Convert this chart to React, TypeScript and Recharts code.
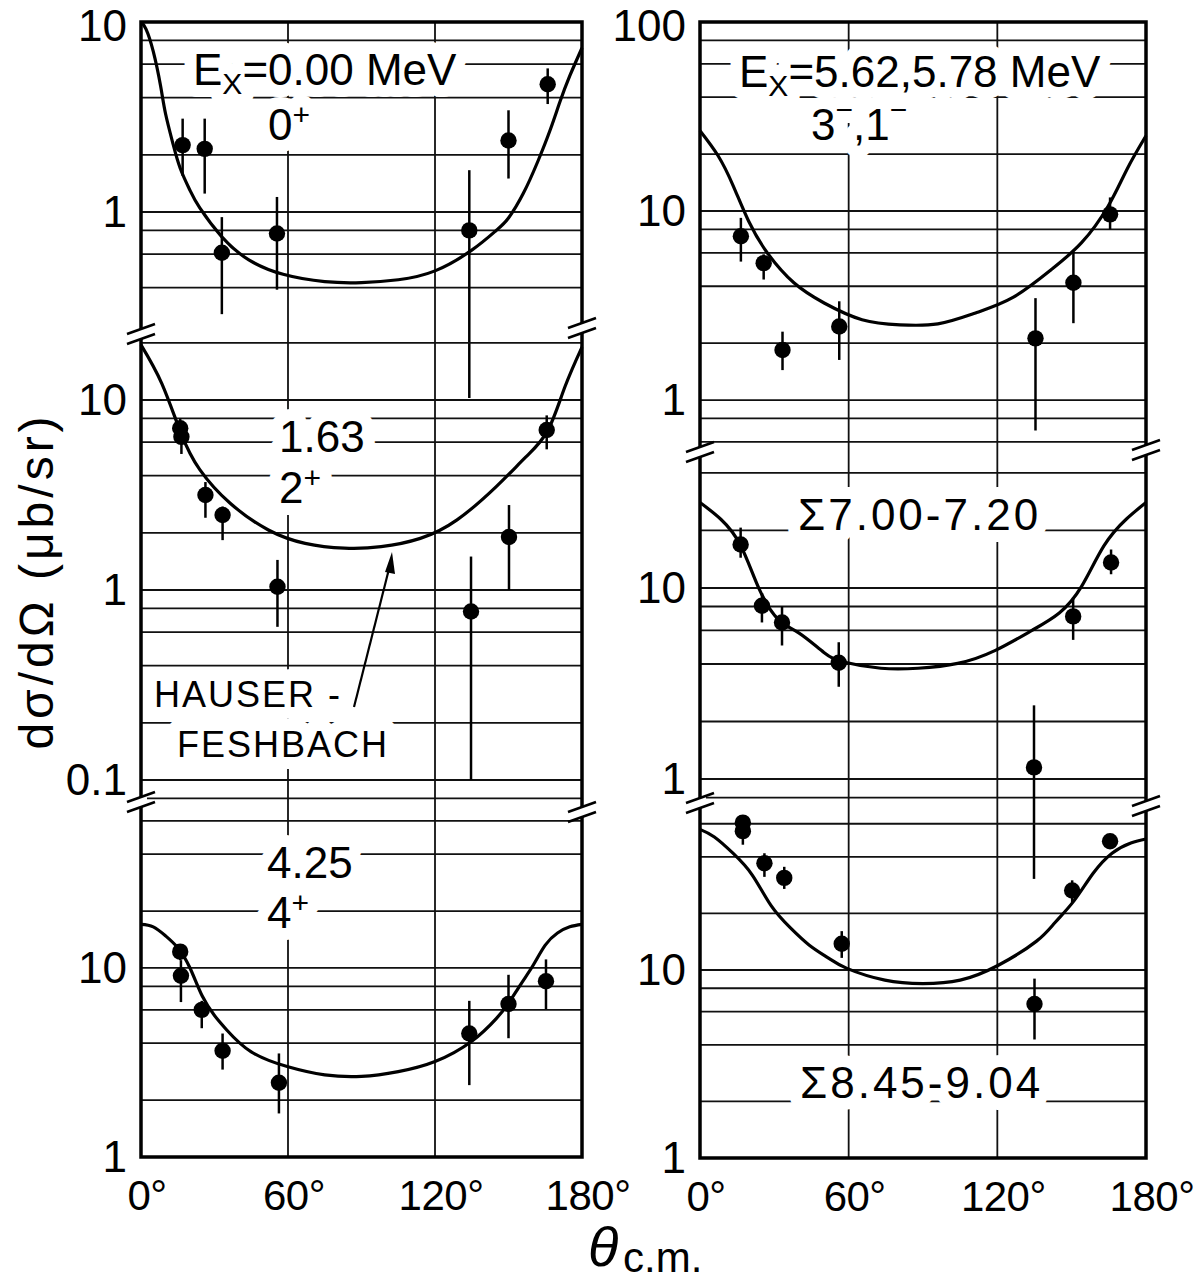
import React from 'react';
import { ComposedChart, Line, Scatter, ErrorBar, XAxis, YAxis, ReferenceLine } from 'recharts';

// ---------------- data ----------------
// Hauser-Feshbach curves (angle in degrees c.m., dσ/dΩ in μb/sr)
const hf000Angles = [0, 2, 5, 8, 10, 13, 16, 20, 24, 33, 44, 58, 75, 90, 105, 120, 135, 145, 150, 156, 162, 167, 171, 175, 180];
const hf000Values = [10, 9.2, 7.0, 4.6, 3.3, 2.3, 1.7, 1.3, 1.05, 0.74, 0.56, 0.47, 0.43, 0.425, 0.44, 0.49, 0.63, 0.8, 0.93, 1.25, 1.85, 2.7, 3.8, 5.2, 7.3];

const hf163Angles = [0, 8.5, 16.3, 24, 36.4, 52, 67, 83, 98, 114, 129, 145, 157, 166, 173, 180];
const hf163Values = [19.5, 12.2, 6.7, 4.3, 2.86, 2.07, 1.76, 1.66, 1.69, 1.87, 2.34, 3.5, 5.0, 6.9, 11.7, 19];

const hf425Angles = [0, 5, 10, 15, 20, 25, 30, 35, 45, 60, 75, 90, 105, 120, 135, 145, 150, 155, 160, 165, 170, 175, 180];
const hf425Values = [17, 16.5, 14.8, 12.8, 10, 7.1, 5.6, 4.7, 3.6, 3.0, 2.72, 2.67, 2.83, 3.2, 4.1, 5.4, 6.5, 8.2, 10.3, 13.2, 15.3, 16.5, 17];

const hf562Angles = [0, 7.3, 13.4, 19.6, 27.2, 37.9, 50.1, 65.4, 80.7, 96, 111.2, 126.5, 141.8, 154, 164.7, 172.4, 180];
const hf562Values = [26.6, 19.6, 13.6, 8.85, 6.0, 4.17, 3.26, 2.66, 2.5, 2.53, 2.89, 3.5, 4.9, 6.8, 10.6, 16.7, 25];

const hf700Angles = [0, 8.4, 16.5, 24, 31.8, 40, 50, 58, 73, 88, 104, 119, 134, 145, 154, 163, 172, 180];
const hf700Values = [28, 22.9, 16.6, 9.8, 6.8, 5.8, 4.6, 4.1, 3.8, 3.8, 4.03, 4.7, 6.0, 7.4, 10.2, 16.6, 22.9, 28];

const hf845Angles = [0, 5.8, 13.4, 21.1, 28.7, 36.4, 44, 51.7, 59.3, 74.6, 89.9, 105, 120.4, 135.7, 143.3, 151, 158.6, 166.3, 173.9, 180];
const hf845Values = [56, 51, 41.7, 32, 22, 16.8, 13.6, 11.6, 10.2, 8.83, 8.47, 8.83, 10.6, 14.2, 17.9, 23.4, 32.6, 41.8, 47.4, 49.8];

// Measured points: angle, value, error-bar low, error-bar high
const d000Angles = [17, 26, 33, 55.5, 134, 150, 166];
const d000Values = [2.25, 2.15, 0.61, 0.77, 0.8, 2.38, 4.7];
const d000Low = [1.55, 1.25, 0.29, 0.39, 0.105, 1.5, 3.7];
const d000High = [3.1, 3.1, 0.94, 1.2, 1.66, 3.43, 5.7];

const d163Angles = [16, 16.5, 26.3, 33.3, 55.7, 134.7, 150.2, 165.6];
const d163Values = [7.1, 6.4, 3.16, 2.48, 1.04, 0.77, 1.9, 6.95];
const d163Low = [6.0, 5.2, 2.4, 1.83, 0.64, 0.1, 1.0, 5.5];
const d163High = [8.0, 7.5, 3.7, 2.75, 1.44, 1.5, 2.8, 8.3];

const d425Angles = [16, 16.3, 24.8, 33.3, 56.3, 134, 150, 165.3];
const d425Values = [12.2, 9.1, 6.0, 3.65, 2.47, 4.5, 6.45, 8.5];
const d425Low = [11.0, 6.6, 4.8, 2.9, 1.7, 2.4, 4.25, 6.06];
const d425High = [13.3, 11.0, 6.7, 4.5, 3.53, 6.7, 9.2, 11.1];

const d562Angles = [16.5, 25.7, 33.3, 56.2, 135.4, 150.7, 165.5];
const d562Values = [7.36, 5.3, 1.84, 2.45, 2.12, 4.17, 9.6];
const d562Low = [5.4, 4.34, 1.44, 1.63, 0.69, 2.55, 8.0];
const d562High = [9.2, 5.9, 2.3, 3.33, 3.46, 6.1, 11.8];

const d700Angles = [16.4, 25, 33.1, 56, 134.8, 150.6, 165.9];
const d700Values = [16.9, 8.07, 6.6, 4.06, 1.15, 7.1, 13.6];
const d700Low = [14.4, 6.6, 5.0, 3.04, 0.3, 5.35, 11.8];
const d700High = [20.7, 9.4, 8.0, 5.2, 2.43, 8.9, 15.9];

const d845Angles = [17.3, 17.3, 26, 34, 57.2, 135, 150.2, 165.5];
const d845Values = [60.8, 54.8, 37, 30.9, 13.8, 6.6, 26.5, 48.4];
const d845Low = [58, 46.4, 31.3, 27, 11.6, 4.27, 22.9, 45];
const d845High = [65, 60, 41.8, 35.4, 16.1, 9.0, 30, 52];

const xTickValues = [0, 60, 120, 180];
const gridMultipliers = [1, 2, 4, 6, 8];
const gridExponents = [-2, -1, 0, 1, 2];
const verticalGrid = [60, 120];

// ---------------- helpers ----------------
const FONT = "'Liberation Sans', Arial, Helvetica, sans-serif";

const buildCurve = (angles: number[], values: number[]) => angles.map((a, i) => ({ a, v: values[i] }));
const buildPoints = (angles: number[], values: number[], low: number[], high: number[]) =>
  angles.map((a, i) => ({ a, v: values[i], e: [values[i] - low[i], high[i] - values[i]] }));

const GRID_VALUES: number[] = [];
gridExponents.forEach((ex) => gridMultipliers.forEach((m) => GRID_VALUES.push(+(m * Math.pow(10, ex)).toPrecision(6))));

const LEFT = { x: 141, w: 441 };
const RIGHT = { x: 700, w: 446 };

const panels = [
  { col: LEFT, top: 22, bottom: 332, domain: [0.2336, 10], ticks: [1, 10], showX: false, curve: buildCurve(hf000Angles, hf000Values), points: buildPoints(d000Angles, d000Values, d000Low, d000High) },
  { col: LEFT, top: 332, bottom: 802, domain: [0.0766, 22.8], ticks: [0.1, 1, 10], showX: false, curve: buildCurve(hf163Angles, hf163Values), points: buildPoints(d163Angles, d163Values, d163Low, d163High) },
  { col: LEFT, top: 802, bottom: 1157, domain: [1, 75.5], ticks: [1, 10], showX: true, curve: buildCurve(hf425Angles, hf425Values), points: buildPoints(d425Angles, d425Values, d425Low, d425High) },
  { col: RIGHT, top: 22, bottom: 452, domain: [0.531, 100], ticks: [1, 10, 100], showX: false, curve: buildCurve(hf562Angles, hf562Values), points: buildPoints(d562Angles, d562Values, d562Low, d562High) },
  { col: RIGHT, top: 452, bottom: 802, domain: [0.758, 51.5], ticks: [1, 10], showX: false, curve: buildCurve(hf700Angles, hf700Values), points: buildPoints(d700Angles, d700Values, d700Low, d700High) },
  { col: RIGHT, top: 802, bottom: 1158, domain: [1, 78.3], ticks: [1, 10], showX: true, curve: buildCurve(hf845Angles, hf845Values), points: buildPoints(d845Angles, d845Values, d845Low, d845High) },
];

const YW = 100;
const XH = 80;
const MT = 24;

const YTick = (props: any) => {
  const { x, y, payload, atPageTop } = props;
  // the topmost label sits a little lower so that it stays inside the page
  const dy = atPageTop && Math.abs(y - MT) < 1 ? 19 : 15;
  return (
    <text x={x} y={y} dy={dy} textAnchor="end" fontSize={44} fontFamily={FONT} fill="#000">
      {String(payload.value)}
    </text>
  );
};

const XTick = (props: any) => {
  const { x, y, payload } = props;
  return (
    <text x={x} y={y} dy={53} dx={6} textAnchor="middle" fontSize={42} letterSpacing={-0.5} fontFamily={FONT} fill="#000">
      {`${payload.value}°`}
    </text>
  );
};

const DataDot = (props: any) => {
  const { cx, cy } = props;
  if (cx == null || cy == null) return null;
  return <circle cx={cx} cy={cy} r={8.2} fill="#000" />;
};

function Panel({ p }: { p: any }) {
  const h = p.bottom - p.top;
  const grid = GRID_VALUES.filter((g) => g >= p.domain[0] * 0.999 && g <= p.domain[1] * 1.001);
  const atPageTop = p.top < 40;
  return (
    <div style={{ position: 'absolute', left: p.col.x - YW, top: p.top - MT }}>
      <ComposedChart width={p.col.w + YW} height={h + MT + (p.showX ? XH : 0)} margin={{ top: MT, right: 0, bottom: 0, left: 0 }}>
        <XAxis
          type="number"
          dataKey="a"
          domain={[0, 180]}
          ticks={xTickValues}
          allowDataOverflow
          hide={!p.showX}
          height={XH}
          axisLine={false}
          tickLine={false}
          tickSize={0}
          tickMargin={0}
          interval={0}
          tick={(tp: any) => <XTick {...tp} />}
        />
        <YAxis
          type="number"
          dataKey="v"
          scale="log"
          domain={p.domain}
          allowDataOverflow
          ticks={p.ticks}
          width={YW}
          axisLine={false}
          tickLine={false}
          tickSize={0}
          tickMargin={14}
          interval={0}
          tick={(tp: any) => <YTick {...tp} atPageTop={atPageTop} />}
        />
        {grid.map((g) => (
          <ReferenceLine key={`h${g}`} y={g} stroke="#111" strokeWidth={1.8} />
        ))}
        {verticalGrid.map((g) => (
          <ReferenceLine key={`v${g}`} x={g} stroke="#111" strokeWidth={1.8} />
        ))}
        <Line
          data={p.curve}
          dataKey="v"
          type="natural"
          stroke="#000"
          strokeWidth={3.2}
          dot={false}
          activeDot={false}
          isAnimationActive={false}
        />
        <Scatter data={p.points} dataKey="v" shape={(sp: any) => <DataDot {...sp} />} isAnimationActive={false}>
          <ErrorBar dataKey="e" direction="y" width={0} stroke="#000" strokeWidth={2.5} isAnimationActive={false} />
        </Scatter>
      </ComposedChart>
    </div>
  );
}

function Annotations() {
  return (
    <>
      {/* left top */}
      <text x={193} y={85}>
        E<tspan fontSize={30} dy={9}>X</tspan>
        <tspan dy={-9}>=0.00 MeV</tspan>
      </text>
      <text x={268} y={140}>
        0<tspan fontSize={30} dy={-15}>+</tspan>
      </text>
      {/* left middle */}
      <text x={279} y={452}>1.63</text>
      <text x={279} y={503}>
        2<tspan fontSize={30} dy={-15}>+</tspan>
      </text>
      <text x={154} y={707} fontSize={36} letterSpacing={2}>HAUSER -</text>
      <text x={177} y={757} fontSize={36} letterSpacing={2}>FESHBACH</text>
      {/* left bottom */}
      <text x={267} y={878}>4.25</text>
      <text x={267} y={928}>
        4<tspan fontSize={30} dy={-15}>+</tspan>
      </text>
      {/* right top */}
      <text x={739} y={87}>
        E<tspan fontSize={30} dy={9}>X</tspan>
        <tspan dy={-9}>=5.62,5.78 MeV</tspan>
      </text>
      <text x={811} y={140}>
        3<tspan fontSize={30} dy={-20}>−</tspan>
        <tspan dy={20}>,1</tspan>
        <tspan fontSize={30} dy={-20}>−</tspan>
      </text>
      {/* right middle */}
      <text x={798} y={530} letterSpacing={3}>Σ7.00-7.20</text>
      {/* right bottom */}
      <text x={800} y={1098} letterSpacing={3}>Σ8.45-9.04</text>
    </>
  );
}

function BreakMark({ x, y }: { x: number; y: number }) {
  return (
    <g>
      <polygon points={`${x - 6},${y + 7} ${x + 6},${y + 3} ${x + 6},${y - 7} ${x - 6},${y - 3}`} fill="#fff" />
      <line x1={x - 14} y1={y + 10} x2={x + 14} y2={y} stroke="#000" strokeWidth={2.6} />
      <line x1={x - 14} y1={y} x2={x + 14} y2={y - 10} stroke="#000" strokeWidth={2.6} />
    </g>
  );
}

export default function App() {
  return (
    <div style={{ position: 'absolute', left: 0, top: 0, width: 1195, height: 1283, background: '#fff', fontFamily: FONT }}>
      <style>{`.recharts-wrapper [clip-path]{clip-path:none !important}.recharts-surface{overflow:visible}`}</style>
      {panels.map((p, i) => (
        <Panel key={i} p={p} />
      ))}
      <svg width={1195} height={1283} style={{ position: 'absolute', left: 0, top: 0, pointerEvents: 'none', overflow: 'visible' }}>
        {/* white halo layer that interrupts grid lines around labels */}
        <g aria-hidden="true" fontFamily={FONT} fontSize={44} fill="#fff" stroke="#fff" strokeWidth={24} strokeLinejoin="round">
          <Annotations />
        </g>
        <g fontFamily={FONT} fontSize={44} fill="#000">
          <Annotations />
        </g>

        {/* frames */}
        <rect x={LEFT.x} y={22} width={LEFT.w} height={1157 - 22} fill="none" stroke="#000" strokeWidth={3.5} />
        <rect x={RIGHT.x} y={22} width={RIGHT.w} height={1158 - 22} fill="none" stroke="#000" strokeWidth={3.5} />
        {/* axis breaks */}
        <BreakMark x={LEFT.x} y={334} />
        <BreakMark x={LEFT.x + LEFT.w} y={328} />
        <BreakMark x={LEFT.x} y={802} />
        <BreakMark x={LEFT.x + LEFT.w} y={812} />
        <BreakMark x={RIGHT.x} y={452} />
        <BreakMark x={RIGHT.x + RIGHT.w} y={450} />
        <BreakMark x={RIGHT.x} y={803} />
        <BreakMark x={RIGHT.x + RIGHT.w} y={806} />

        {/* Hauser-Feshbach arrow */}
        <line x1={354} y1={707} x2={390} y2={565} stroke="#000" strokeWidth={2.2} />
        <polygon points="392,552 385,572 395,574" fill="#000" />

        {/* axis titles */}
        <text
          transform="translate(53,581) rotate(-90)"
          textAnchor="middle"
          fontSize={48}
          letterSpacing={4}
          fontFamily={FONT}
          fill="#000"
        >
          dσ/dΩ (μb/sr)
        </text>
        <text x={588} y={1266} fontSize={56} fontStyle="italic" fontFamily={FONT} fill="#000">
          θ
        </text>
        <text x={623} y={1272} fontSize={42} fontFamily={FONT} fill="#000">
          c.m.
        </text>
      </svg>
    </div>
  );
}
